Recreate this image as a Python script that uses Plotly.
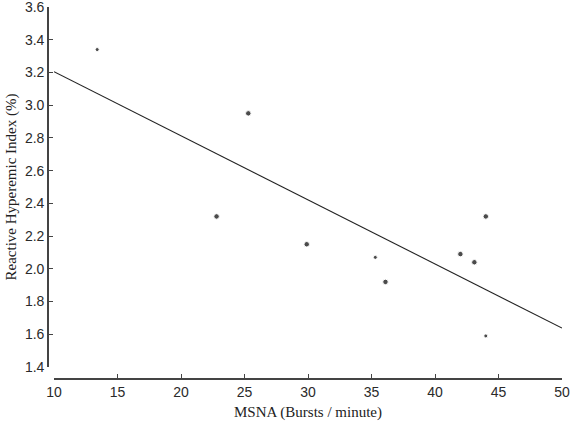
import plotly.graph_objects as go

# MSNA (bursts/min) vs reactive hyperemic index
msna = [13.4, 22.8, 25.3, 29.9, 35.3, 36.1, 42.0, 43.1, 44.0, 44.0]
rhi = [3.34, 2.32, 2.95, 2.15, 2.07, 1.92, 2.09, 2.04, 2.32, 1.59]
dot_big = [False, True, True, True, False, True, True, True, True, False]

fit_x = [10, 50]
fit_y = [3.205, 1.638]

x_ticks = [10, 15, 20, 25, 30, 35, 40, 45, 50]
y_ticks = [1.4, 1.6, 1.8, 2.0, 2.2, 2.4, 2.6, 2.8, 3.0, 3.2, 3.4, 3.6]

W, H = 570, 425
ml, mr, mt, mb = 48, 8, 7, 46
pw = W - ml - mr
ph = H - mt - mb

fig = go.Figure()

fig.add_trace(go.Scatter(
    x=fit_x, y=fit_y, mode="lines",
    line=dict(color="#222222", width=1.1),
    hoverinfo="skip", cliponaxis=False,
))

fig.add_trace(go.Scatter(
    x=msna, y=rhi, mode="markers",
    marker=dict(color="black", size=[5.5 if b else 4 for b in dot_big]),
    cliponaxis=False,
))

tick_font = dict(family="Liberation Sans", size=14, color="#2a2a2a")
title_font = dict(family="Liberation Serif", size=15, color="#222222")

fig.update_layout(
    width=W, height=H,
    margin=dict(l=ml, r=mr, t=mt, b=mb),
    plot_bgcolor="white", paper_bgcolor="white",
    showlegend=False,
    xaxis=dict(
        domain=[6 / pw, 1], range=[10, 50],
        anchor="free", position=0, automargin=False,
        tickvals=x_ticks, ticktext=[str(v) for v in x_ticks],
        ticks="inside", ticklen=4, tickcolor="#444444", tickwidth=1.2,
        showline=True, linecolor="#444444", linewidth=1.6,
        showgrid=False, zeroline=False,
        tickfont=tick_font, ticklabeloverflow="allow",
        title=dict(text="MSNA (Bursts / minute)", font=title_font, standoff=7),
    ),
    yaxis=dict(
        domain=[12 / ph, 1], range=[1.4, 3.6],
        anchor="free", position=0, automargin=False,
        tickvals=y_ticks, ticktext=["%.1f" % v for v in y_ticks],
        ticks="inside", ticklen=4, tickcolor="#444444", tickwidth=1.2,
        showline=True, linecolor="#444444", linewidth=1.6,
        showgrid=False, zeroline=False,
        tickfont=tick_font, ticklabeloverflow="allow",
        title=dict(text="Reactive Hyperemic Index (%)", font=title_font, standoff=4),
    ),
)

# the page has a default 8px body margin; drop it so the figure fills the window
fig.write_html("out.html", config={"displayModeBar": False},
               post_script="document.body.style.margin='0px';")
